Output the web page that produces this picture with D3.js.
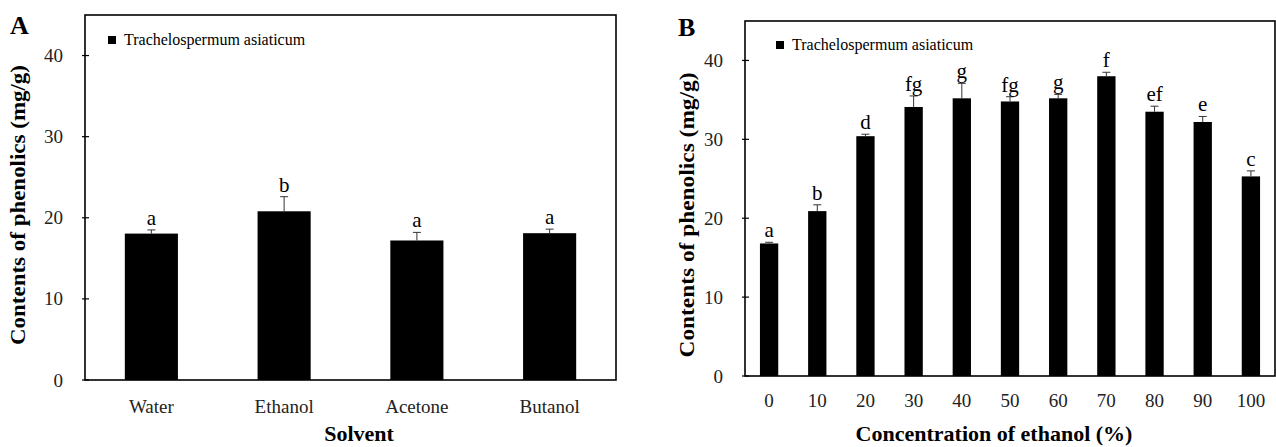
<!DOCTYPE html>
<html>
<head>
<meta charset="utf-8">
<script src="https://cdn.jsdelivr.net/npm/d3@7"></script>
<style>
  body { margin: 0; background: #fff; }
  svg, svg text { font-family: "Liberation Serif", "Times New Roman", serif; }
</style>
</head>
<body>
<div id="chart"></div>
<script>
// Données panneau A (solvants)
const solvents = ["Water", "Ethanol", "Acetone", "Butanol"];
const solventValues = [18.05, 20.8, 17.2, 18.1];
const solventErrors = [0.45, 1.8, 1.0, 0.5];
const solventLetters = ["a", "b", "a", "a"];

// Données panneau B (concentration d'éthanol)
const concentrations = ["0", "10", "20", "30", "40", "50", "60", "70", "80", "90", "100"];
const concValues = [16.8, 20.9, 30.4, 34.1, 35.2, 34.8, 35.2, 38.0, 33.5, 32.2, 25.3];
const concErrors = [0.15, 0.8, 0.25, 1.4, 1.9, 0.6, 0.5, 0.5, 0.7, 0.7, 0.7];
const concLetters = ["a", "b", "d", "fg", "g", "fg", "g", "f", "ef", "e", "c"];

const yTicks = [0, 10, 20, 30, 40];
const legendName = "Trachelospermum asiaticum";
const yTitle = "Contents of phenolics  (mg/g)";

const svg = d3.select("#chart")
    .append("svg")
    .attr("width", 1276)
    .attr("height", 447);

// dessine un panneau
function panel(opt) {
    const x = d3.scaleBand()
        .domain(opt.cats)
        .range([opt.left, opt.right])
        .paddingInner(opt.pad)
        .paddingOuter(opt.pad / 2);

    const y = d3.scaleLinear()
        .domain([0, 45])
        .range([opt.bottom, opt.top]);

    const g = svg.append("g");

    // barres
    g.selectAll("rect.bar")
        .data(opt.values)
        .enter()
        .append("rect")
        .attr("class", "bar")
        .attr("x", (d, i) => x(opt.cats[i]))
        .attr("y", d => y(d))
        .attr("width", x.bandwidth())
        .attr("height", d => y(0) - y(d))
        .attr("fill", "#000");

    // barres d'erreur (vers le haut seulement)
    const err = g.selectAll("g.err")
        .data(opt.values)
        .enter()
        .append("g")
        .attr("stroke", "#333")
        .attr("stroke-width", 1);
    err.append("line")
        .attr("x1", (d, i) => x(opt.cats[i]) + x.bandwidth() / 2)
        .attr("x2", (d, i) => x(opt.cats[i]) + x.bandwidth() / 2)
        .attr("y1", d => y(d))
        .attr("y2", (d, i) => y(d + opt.errors[i]));
    err.append("line")
        .attr("x1", (d, i) => x(opt.cats[i]) + x.bandwidth() / 2 - 4)
        .attr("x2", (d, i) => x(opt.cats[i]) + x.bandwidth() / 2 + 4)
        .attr("y1", (d, i) => y(d + opt.errors[i]))
        .attr("y2", (d, i) => y(d + opt.errors[i]));

    // lettres de significativité
    g.selectAll("text.letter")
        .data(opt.letters)
        .enter()
        .append("text")
        .attr("x", (d, i) => x(opt.cats[i]) + x.bandwidth() / 2)
        .attr("y", (d, i) => y(opt.values[i] + opt.errors[i]) - 5)
        .attr("text-anchor", "middle")
        .style("font-size", opt.letterSize + "px")
        .text(d => d);

    // cadre
    g.append("rect")
        .attr("x", opt.left)
        .attr("y", opt.top)
        .attr("width", opt.right - opt.left)
        .attr("height", opt.bottom - opt.top)
        .attr("fill", "none")
        .attr("stroke", "#000")
        .attr("stroke-width", 1.6);

    // axe Y
    const yAxis = g.append("g")
        .attr("transform", `translate(${opt.left},0)`)
        .call(d3.axisLeft(y).tickValues(yTicks).tickSize(0).tickPadding(opt.tickPad));
    yAxis.attr("font-family", null).attr("font-size", null);
    yAxis.select(".domain").remove();
    yAxis.selectAll("text")
        .style("font-family", "'Liberation Serif', serif")
        .style("font-size", opt.tickSize + "px")
        .attr("fill", "#222");
    g.selectAll("line.ytick")
        .data(yTicks)
        .enter()
        .append("line")
        .attr("x1", opt.left - 3)
        .attr("x2", opt.left + 4)
        .attr("y1", d => y(d))
        .attr("y2", d => y(d))
        .attr("stroke", "#000")
        .attr("stroke-width", 1.2);

    // axe X
    const xAxis = g.append("g")
        .attr("transform", `translate(0,${opt.bottom})`)
        .call(d3.axisBottom(x).tickSize(0).tickPadding(opt.xPad));
    xAxis.attr("font-family", null).attr("font-size", null);
    xAxis.select(".domain").remove();
    xAxis.selectAll("text")
        .style("font-family", "'Liberation Serif', serif")
        .style("font-size", opt.tickSize + "px")
        .attr("fill", "#222");

    // titres
    g.append("text")
        .attr("transform", `translate(${opt.yTitleX},${opt.yTitleY}) rotate(-90)`)
        .attr("text-anchor", "middle")
        .attr("textLength", opt.yTitleLen)
        .attr("lengthAdjust", "spacingAndGlyphs")
        .style("font-size", "22px")
        .style("font-weight", "bold")
        .text(yTitle);

    g.append("text")
        .attr("x", opt.xTitleX)
        .attr("y", opt.xTitleY)
        .attr("text-anchor", "middle")
        .style("font-size", "22px")
        .style("font-weight", "bold")
        .text(opt.xTitle);

    g.append("text")
        .attr("x", opt.labelX)
        .attr("y", opt.labelY)
        .style("font-size", "26px")
        .style("font-weight", "bold")
        .text(opt.label);

    // légende
    g.append("rect")
        .attr("x", opt.legX)
        .attr("y", opt.legY - 4)
        .attr("width", 8)
        .attr("height", 8)
        .attr("fill", "#000");
    g.append("text")
        .attr("x", opt.legX + 16)
        .attr("y", opt.legY + 5)
        .style("font-size", "16px")
        .text(legendName);
}

panel({
    cats: solvents, values: solventValues, errors: solventErrors, letters: solventLetters,
    left: 85, right: 616, top: 15, bottom: 380, pad: 0.6,
    tickSize: 19, tickPad: 22, xPad: 20, letterSize: 21,
    yTitleX: 25, yTitleY: 205, yTitleLen: 280,
    xTitle: "Solvent", xTitleX: 359, xTitleY: 441,
    label: "A", labelX: 10, labelY: 34,
    legX: 108, legY: 40
});

panel({
    cats: concentrations, values: concValues, errors: concErrors, letters: concLetters,
    left: 745, right: 1275, top: 21, bottom: 376, pad: 0.62,
    tickSize: 19, tickPad: 22, xPad: 18, letterSize: 21,
    yTitleX: 694, yTitleY: 215, yTitleLen: 285,
    xTitle: "Concentration  of ethanol (%)", xTitleX: 994, xTitleY: 441,
    label: "B", labelX: 678, labelY: 36,
    legX: 776, legY: 45
});
</script>
</body>
</html>
